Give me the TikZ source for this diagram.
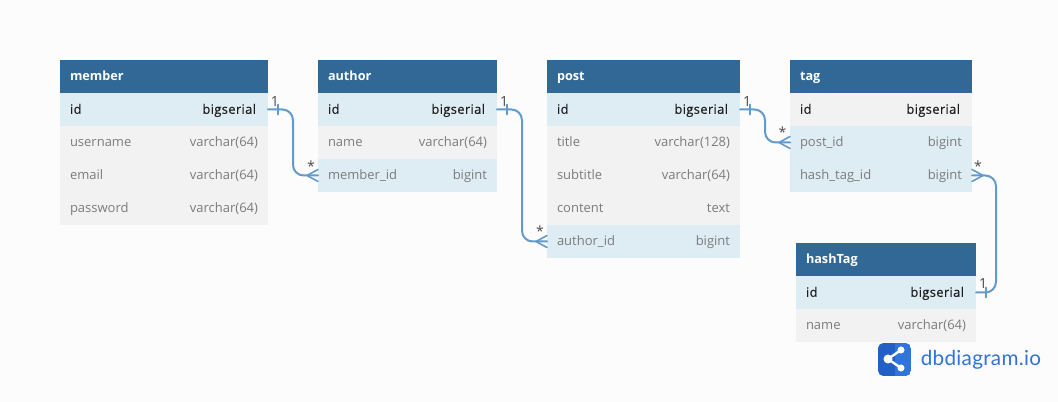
\documentclass[tikz,border=0pt]{standalone}
\usepackage{fontspec}
\setmainfont{Open Sans}
\newfontfamily\logofont[LetterSpace=1.5]{Lato}
\newfontfamily\keyfont[FakeBold=0.25,LetterSpace=2.5]{Open Sans}
\usepackage{xcolor}
\definecolor{pagebg}{HTML}{FCFCFC}
\definecolor{headblue}{HTML}{316896}
\definecolor{rowblue}{HTML}{DEECF4}
\definecolor{rowgrey}{HTML}{F2F2F2}
\definecolor{relblue}{HTML}{639ACD}
\definecolor{darktext}{HTML}{1E1E1E}
\definecolor{softtext}{HTML}{7C7C7C}
\definecolor{marktext}{HTML}{4A4A4A}
\definecolor{logodark}{HTML}{2360C6}
\definecolor{logolight}{HTML}{2E74DC}
\newcommand{\pkfield}[2]{{\keyfont\textcolor{darktext}{#1}\hfill\textcolor{darktext}{#2}}\kern1.5pt}
\newcommand{\plainfield}[2]{\textcolor{softtext}{#1}\hfill\textcolor{softtext}{#2}}
\tikzset{
  tablebase/.style={anchor=north west,inner xsep=7.5pt,inner ysep=0pt,outer sep=0pt,
    minimum height=24.75pt,font=\fontsize{9.75}{11}\selectfont,
    text height=8pt,text depth=1.5pt,align=left},
  tablehead/.style={tablebase,fill=headblue,text=white,text width=#1,
    font=\fontsize{9.5}{11}\selectfont\bfseries},
  bluerow/.style={tablebase,fill=rowblue,text width=#1},
  greyrow/.style={tablebase,fill=rowgrey,text width=#1},
  rel/.style={draw=relblue,line width=1.5pt,line cap=round,line join=round},
  relmark/.style={draw=relblue,line width=1.2pt,line cap=round,line join=round},
  cardmark/.style={text=marktext,inner sep=0pt,font=\fontsize{10.5}{12}\selectfont},
}
\begin{document}
\begin{tikzpicture}[x=0.75pt,y=-0.75pt]
\fill[pagebg] (0,0) rectangle (1058,402);
\useasboundingbox (0,0) rectangle (1058,402);
% member
\node[tablehead=141pt] (member-head) at (60,60) {member};
\node[bluerow=141pt] (member-id) at (60,93) {\pkfield{id}{bigserial}};
\node[greyrow=141pt] (member-username) at (60,126) {\plainfield{username}{varchar(64)}};
\node[greyrow=141pt] (member-email) at (60,159) {\plainfield{email}{varchar(64)}};
\node[greyrow=141pt] (member-password) at (60,192) {\plainfield{password}{varchar(64)}};
% author
\node[tablehead=119.25pt] (author-head) at (318,60) {author};
\node[bluerow=119.25pt] (author-id) at (318,93) {\pkfield{id}{bigserial}};
\node[greyrow=119.25pt] (author-name) at (318,126) {\plainfield{name}{varchar(64)}};
\node[bluerow=119.25pt] (author-memberid) at (318,159) {\plainfield{member\_id}{bigint}};
% post
\node[tablehead=129.75pt] (post-head) at (547,60) {post};
\node[bluerow=129.75pt] (post-id) at (547,93) {\pkfield{id}{bigserial}};
\node[greyrow=129.75pt] (post-title) at (547,126) {\plainfield{title}{varchar(128)}};
\node[greyrow=129.75pt] (post-subtitle) at (547,159) {\plainfield{subtitle}{varchar(64)}};
\node[greyrow=129.75pt] (post-content) at (547,192) {\plainfield{content}{text}};
\node[bluerow=129.75pt] (post-authorid) at (547,225) {\plainfield{author\_id}{bigint}};
% tag
\node[tablehead=121.5pt] (tag-head) at (790,60) {tag};
\node[greyrow=121.5pt] (tag-id) at (790,93) {\pkfield{id}{bigserial}};
\node[bluerow=121.5pt] (tag-postid) at (790,126) {\plainfield{post\_id}{bigint}};
\node[bluerow=121.5pt] (tag-hashtagid) at (790,159) {\plainfield{hash\_tag\_id}{bigint}};
% hashTag
\node[tablehead=120pt] (hashtag-head) at (796,243) {hashTag};
\node[bluerow=120pt] (hashtag-id) at (796,276) {\pkfield{id}{bigserial}};
\node[greyrow=120pt] (hashtag-name) at (796,309) {\plainfield{name}{varchar(64)}};
% member.id - author.member_id
\draw[rel,rounded corners=8] (member-id.east) -- ++(25,0) |- (author-memberid.west);
\draw[relmark] (member-id.east) ++(10,-5) -- ++(0,10);
\draw[relmark] (author-memberid.west) ++(-11,0) -- ++(11,-6) ++(-11,6) -- ++(11,6);
\node[cardmark] (mark-member) at (275,102) {1};
\node[cardmark] (mark-memberid) at (311,166) {*};
% author.id - post.author_id
\draw[rel,rounded corners=8] (author-id.east) -- ++(25,0) |- (post-authorid.west);
\draw[relmark] (author-id.east) ++(10,-5) -- ++(0,10);
\draw[relmark] (post-authorid.west) ++(-11,0) -- ++(11,-6) ++(-11,6) -- ++(11,6);
\node[cardmark] (mark-author) at (504,102) {1};
\node[cardmark] (mark-authorid) at (540,231.5) {*};
% post.id - tag.post_id
\draw[rel,rounded corners=8] (post-id.east) -- ++(25,0) |- (tag-postid.west);
\draw[relmark] (post-id.east) ++(10,-5) -- ++(0,10);
\draw[relmark] (tag-postid.west) ++(-11,0) -- ++(11,-6) ++(-11,6) -- ++(11,6);
\node[cardmark] (mark-post) at (747,102) {1};
\node[cardmark] (mark-postid) at (782.5,132.5) {*};
% hashTag.id - tag.hash_tag_id
\draw[rel,rounded corners=8] (hashtag-id.east) -- ++(20,0) |- (tag-hashtagid.east);
\draw[relmark] (hashtag-id.east) ++(10,-5) -- ++(0,10);
\draw[relmark] (tag-hashtagid.east) ++(11,0) -- ++(-11,-6) ++(11,6) -- ++(-11,6);
\node[cardmark] (mark-hashtag) at (983,284) {1};
\node[cardmark] (mark-hashtagid) at (978,166) {*};
% logo
\begin{scope}
\clip[rounded corners=4] (878,343) rectangle (911,376);
\fill[logodark] (878,343) rectangle (895,376);
\fill[logolight] (895,343) rectangle (911,376);
\end{scope}
\draw[white,line width=1.8pt] (901,350) -- (888,359) -- (901,368);
\fill[white] (888,359) circle (4.5);
\fill[white] (901,350) circle (3.5);
\fill[white] (901,368) circle (3.5);
\node[anchor=west,inner sep=0pt,text=logolight,font=\logofont\fontsize{15.5}{18}\selectfont] (logo-text) at (920.5,360) {dbdiagram.io};
\end{tikzpicture}
\end{document}
